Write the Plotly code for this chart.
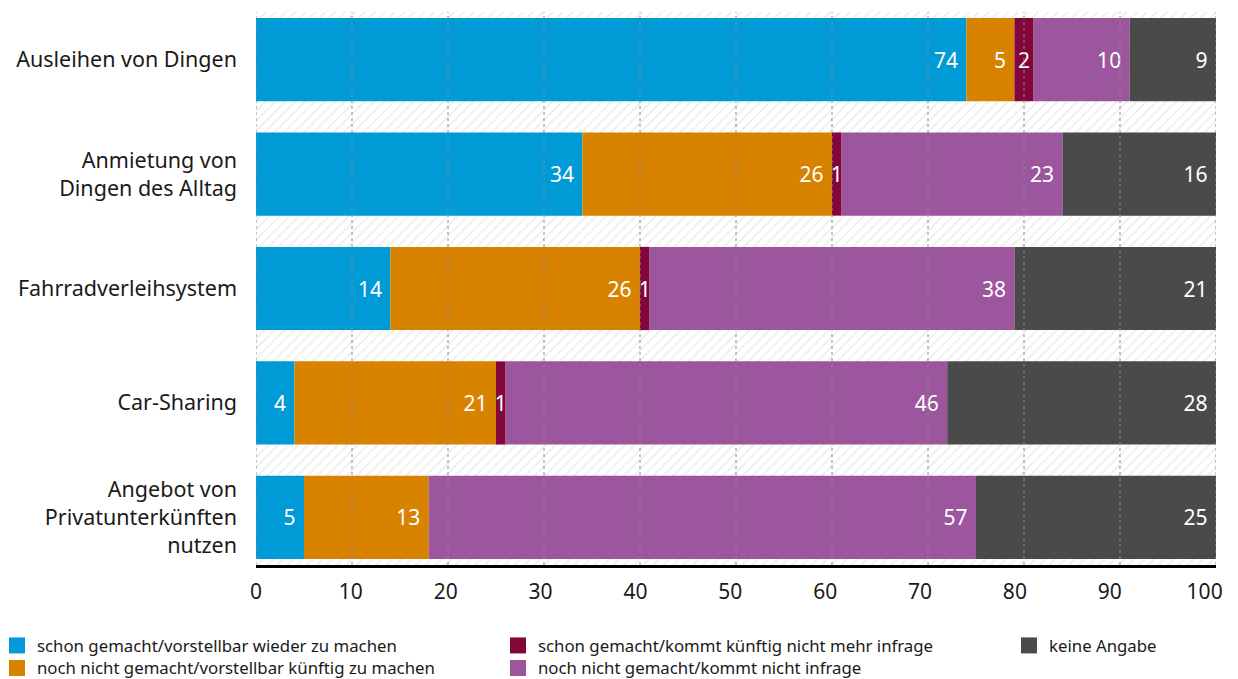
import numpy as np
import plotly.graph_objects as go

categories = [
    "Ausleihen von Dingen",
    "Anmietung von<br>Dingen des Alltag",
    "Fahrradverleihsystem",
    "Car-Sharing",
    "Angebot von<br>Privatunterkünften<br>nutzen",
]
series_names = [
    "schon gemacht/vorstellbar wieder zu machen",
    "noch nicht gemacht/vorstellbar künftig zu machen",
    "schon gemacht/kommt künftig nicht mehr infrage",
    "noch nicht gemacht/kommt nicht infrage",
    "keine Angabe",
]
schon_wieder = [74, 34, 14, 4, 5]
noch_kuenftig = [5, 26, 26, 21, 13]
schon_nicht_mehr = [2, 1, 1, 1, 0]
noch_nicht = [10, 23, 38, 46, 57]
keine_angabe = [9, 16, 21, 28, 25]
x_ticks = [0, 10, 20, 30, 40, 50, 60, 70, 80, 90, 100]

series_values = [schon_wieder, noch_kuenftig, schon_nicht_mehr, noch_nicht, keine_angabe]
colors = ["#009ad7", "#d78300", "#82063a", "#9c569d", "#4a4a4a"]
# legend slot (text-left pixel x, row centre pixel y) per series
legend_slots = [(37, 645.5), (37, 668), (538, 645.5), (538, 668), (1049, 645.5)]

FONT = "Noto Sans"
NBSP = "\u00a0"
TXT = "#1a1a1a"

# plot area in pixels
L_PX, R_PX, T_PX, B_PX = 256, 1216, 12, 565
W_PX, H_PX = R_PX - L_PX, B_PX - T_PX

fig = go.Figure()

# hatched background band
fig.add_trace(go.Bar(
    y=categories, x=[x_ticks[-1]] * len(categories), base=0, orientation="h",
    width=1, marker=dict(color="white", line=dict(width=0),
                         pattern=dict(shape="/", fgcolor="#dcdcdc", bgcolor="white",
                                      size=7, solidity=0.25)),
    showlegend=False, hoverinfo="skip",
))

bases = np.cumsum([[0] * len(categories)] + series_values[:-1], axis=0)
for i, (name, vals) in enumerate(zip(series_names, series_values)):
    small = i == 2
    text = [("" if v == 0 else (f"{v}" if small else f"{v}{NBSP}")) for v in vals]
    fig.add_trace(go.Bar(
        y=categories, x=vals, base=list(bases[i]), orientation="h", name=name,
        width=0.727, marker=dict(color=colors[i], line=dict(width=0)),
        text=text, textposition="inside", constraintext="none",
        insidetextanchor="middle" if small else "end",
        textfont=dict(color="white", size=21, family=FONT),
        showlegend=False,
    ))

# legend-only entries (bigger square swatches); they live on the label axis x2
legend_layouts = {}
for i, (name, (tx, ty)) in enumerate(zip(series_names, legend_slots)):
    lid = "legend" if i == 0 else f"legend{i + 1}"
    fig.add_trace(go.Scatter(
        x=[None], y=[None], xaxis="x2", yaxis="y", mode="markers", name=name,
        legend=lid,
        marker=dict(symbol="square", size=18, color=colors[i], line=dict(width=0)),
        hoverinfo="skip",
    ))
    legend_layouts[lid] = dict(
        x=(tx - 40 - L_PX) / W_PX, y=(B_PX - ty) / H_PX,
        xanchor="left", yanchor="middle", orientation="v",
        font=dict(size=16.8, family=FONT, color=TXT),
        bgcolor="rgba(0,0,0,0)", borderwidth=0,
    )

for xv in x_ticks:
    fig.add_shape(type="line", x0=xv, x1=xv, y0=0, y1=1, xref="x", yref="paper",
                  line=dict(color="#8a8a8a", width=1, dash="dot"), layer="above")

n = len(categories)
pad = 0.416
fig.update_layout(
    width=1238, height=679,
    margin=dict(l=L_PX, r=1238 - R_PX, t=T_PX, b=679 - B_PX, autoexpand=False),
    paper_bgcolor="white", plot_bgcolor="white",
    barmode="overlay",
    font=dict(family=FONT, color=TXT),
    xaxis=dict(range=[x_ticks[0], x_ticks[-1]], tickvals=x_ticks, showgrid=False,
               zeroline=False, showline=True, linecolor="black", linewidth=2.5,
               ticks="", showticklabels=False),
    # label axis: the original's tick labels sit on a slightly compressed scale
    xaxis2=dict(overlaying="x", anchor="y", side="bottom",
                range=[0, 101.2], tickvals=x_ticks, showgrid=False,
                zeroline=False, showline=False, ticks="", ticklabelstandoff=12,
                tickfont=dict(size=21, family=FONT, color=TXT)),
    yaxis=dict(range=[n - 1 + pad, -pad], showgrid=False, zeroline=False,
               ticks="", ticklabelstandoff=18,
               tickfont=dict(size=21.5, family=FONT, color=TXT)),
    showlegend=True,
    **legend_layouts,
)

fig.write_html("out.html")
